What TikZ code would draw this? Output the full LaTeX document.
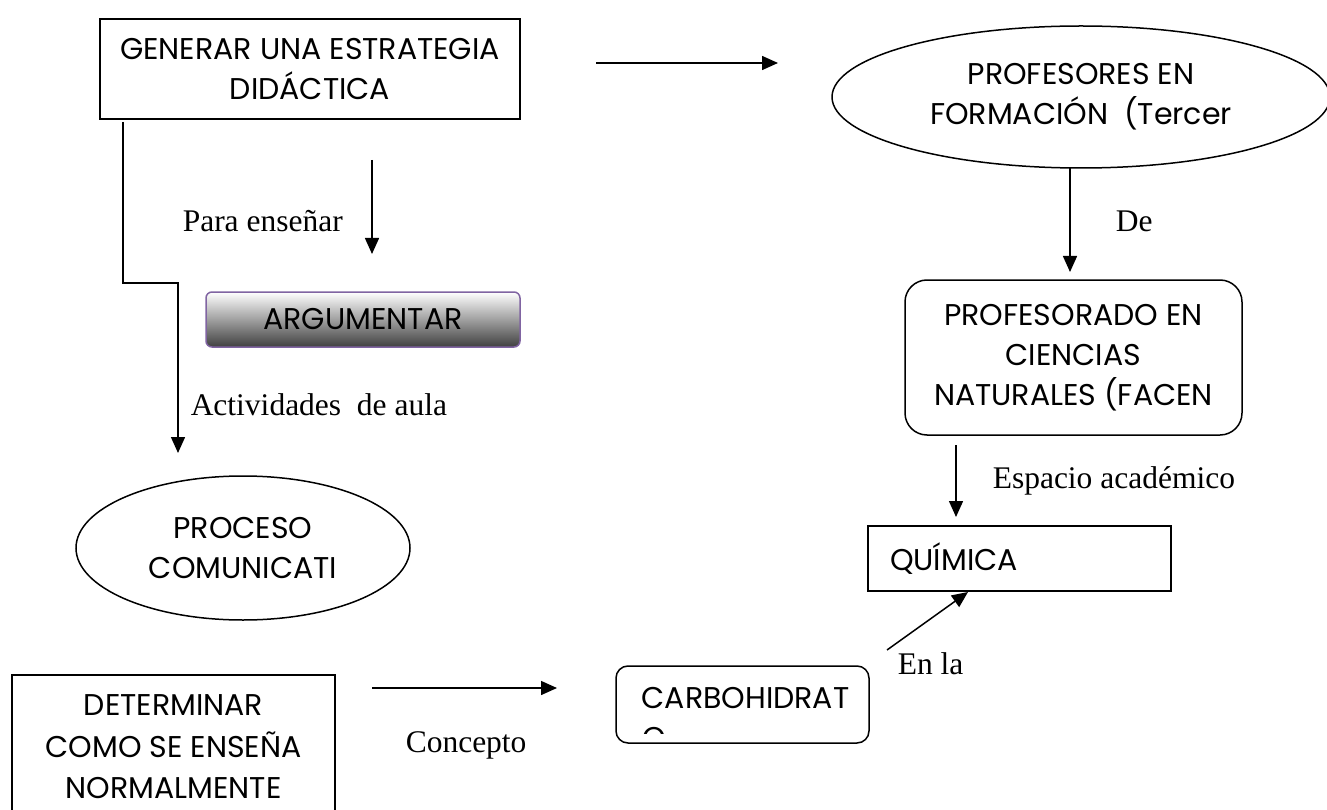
\documentclass[tikz,border=0pt]{standalone}
\usepackage{fontspec}
\setmainfont{Liberation Serif}
\newfontfamily\gothic{Poppins}
\usepackage{tikz}
\usetikzlibrary{arrows.meta,shapes.geometric}
\definecolor{argborder}{HTML}{8064A2}

\begin{document}
\begin{tikzpicture}[x=1pt,y=-1pt,->,>={Triangle[length=16pt,width=14pt]},line width=1.5pt,
    box text/.style={font=\gothic\fontsize{30}{40}\selectfont,align=center,inner sep=0pt},
    plain box/.style={box text,draw,rectangle},
    round box/.style={plain box,rounded corners=22pt},
    oval/.style={box text,draw,ellipse},
    link/.style={font=\fontsize{31.5}{36}\selectfont,inner sep=0pt,anchor=base west}]
    \useasboundingbox (0,0) rectangle (1327,810);

    \node[plain box,minimum width=420,minimum height=100] (generar) at (310,69) {GENERAR UNA ESTRATEGIA\\DIDÁCTICA};
    \node[oval,minimum width=498,minimum height=142] (profesores) at (1081,97) {PROFESORES EN\\FORMACIÓN\ \ (Tercer};
    \node[plain box,rounded corners=6pt,draw=argborder,top color=white,middle color=black!25,bottom color=black!75,
        minimum width=314,minimum height=55] (argumentar) at (363,319.5) {ARGUMENTAR};
    \node[round box,minimum width=337,minimum height=155] (profesorado) at (1073.5,357.5) {PROFESORADO EN\\CIENCIAS\\NATURALES (FACEN};
    \node[plain box,align=left,text width=259,minimum width=303,minimum height=65] (quimica) at (1019.5,558.5) {QUÍMICA};
    \node[oval,minimum width=334,minimum height=144] (proceso) at (243,548) {PROCESO\\COMUNICATI};
    \node[plain box,minimum width=323,minimum height=144,font=\gothic\fontsize{30}{41.5}\selectfont] (determinar) at (173.5,747) {DETERMINAR\\COMO SE ENSEÑA\\NORMALMENTE};
    \node[round box,rounded corners=12pt,minimum width=253,minimum height=77] (carbo) at (742.5,704.5) {};
    \begin{scope}
        \clip (620,668) rectangle (866,733);
        \node[box text,anchor=base west] (carbotext) at (641,708.5) {CARBOHIDRAT};
        \node[box text,anchor=base west] (carbotail) at (642,748.5) {O};
    \end{scope}

    % arrow ends
    \coordinate (a1) at (596,63);   \coordinate (a2) at (778,63);
    \coordinate (b1) at (372,160);  \coordinate (b2) at (372,254);
    \coordinate (c1) at (123,122);  \coordinate (c2) at (178,283);  \coordinate (c3) at (178,453);
    \coordinate (d1) at (1070,168); \coordinate (d2) at (1070,272);
    \coordinate (e1) at (956,445);  \coordinate (e2) at (956,517);
    \coordinate (f1) at (887,650);  \coordinate (f2) at (968,592);
    \coordinate (g1) at (372,688);  \coordinate (g2) at (557,688);

    \draw (a1) -- (a2);
    \draw (b1) -- (b2);
    \draw (c1) |- (c2) -- (c3);
    \draw (d1) -- (d2);
    \draw (e1) -- (e2);
    \draw (f1) -- (f2);
    \draw (g1) -- (g2);

    \node[link] (para) at (182,232) {Para enseñar};
    \node[link] (actividades) at (190,415) {Actividades\ \ de aula};
    \node[link] (de) at (1115,232) {De};
    \node[link] (espacio) at (992,488) {Espacio académico};
    \node[link] (enla) at (897,674) {En la};
    \node[link] (concepto) at (405,752) {Concepto};
\end{tikzpicture}
\end{document}
